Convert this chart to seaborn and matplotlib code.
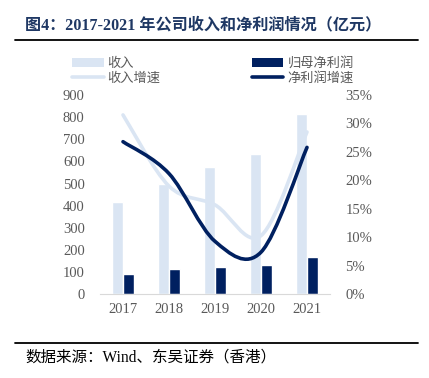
import numpy as np
import pandas as pd
import matplotlib
matplotlib.use('Agg')
import matplotlib.pyplot as plt
import seaborn as sns
from matplotlib.path import Path
from matplotlib.patches import PathPatch, Patch
from matplotlib.lines import Line2D
from matplotlib.ticker import FuncFormatter

# 数据（亿元 / %）
years = ['2017', '2018', '2019', '2020', '2021']
revenue = [418, 497, 575, 633, 814]
net_profit = [93, 113, 123, 132, 167]
revenue_growth = [31.5, 19.0, 15.7, 10.3, 28.5]
profit_growth = [26.8, 21.2, 9.3, 7.4, 25.8]

light = '#DAE5F3'
navy = '#002060'
gray = '#595959'
serif = 'Liberation Serif'
cjk = ['Liberation Serif', 'Noto Sans CJK SC']

sns.set_style('white')
plt.rcParams['font.family'] = ['Noto Sans CJK SC', 'DejaVu Sans']

df = pd.DataFrame({
    'year': years * 2,
    'series': ['收入'] * 5 + ['归母净利润'] * 5,
    'value': revenue + net_profit,
})

fig = plt.figure(figsize=(4.29, 3.78), dpi=100)
ax = fig.add_axes([100 / 429, 1 - 294.3 / 378, 230 / 429, 199.3 / 378])

sns.barplot(data=df, x='year', y='value', hue='series', ax=ax,
            palette=[light, navy], width=0.48, gap=0, saturation=1,
            legend=False)
ax.set_xlim(-0.5, 4.5)
ax.set_ylim(0, 900)
ax.set_yticks(range(0, 901, 100))
ax.set_xlabel('')
ax.set_ylabel('')
for s in ['top', 'left', 'right']:
    ax.spines[s].set_visible(False)
ax.spines['bottom'].set_color('#D9D9D9')
ax.tick_params(length=0, colors=gray, labelsize=10.5)
ax.tick_params(axis='y', pad=11)
ax.tick_params(axis='x', pad=6)
for lab in ax.get_xticklabels() + ax.get_yticklabels():
    lab.set_family(serif)


# 平滑曲线（类似 Excel 平滑线）
def smooth_path(xs, ys):
    pts = np.column_stack([xs, ys]).astype(float)
    n = len(pts)
    verts = [pts[0]]
    codes = [Path.MOVETO]
    for i in range(n - 1):
        p_prev = pts[i - 1] if i > 0 else pts[i]
        p_next2 = pts[i + 2] if i + 2 < n else pts[i + 1]
        c1 = pts[i] + (pts[i + 1] - p_prev) / 6
        c2 = pts[i + 1] - (p_next2 - pts[i]) / 6
        verts += [c1, c2, pts[i + 1]]
        codes += [Path.CURVE4] * 3
    return Path(verts, codes)


ax2 = ax.twinx()
ax2.set_ylim(0, 35)
ax2.set_yticks(range(0, 36, 5))
ax2.yaxis.set_major_formatter(FuncFormatter(lambda v, _: f'{v:.0f}%'))
xs = np.arange(len(years))
ax2.add_patch(PathPatch(smooth_path(xs, revenue_growth), fill=False,
                        edgecolor=light, lw=2.6, capstyle='round'))
ax2.add_patch(PathPatch(smooth_path(xs, profit_growth), fill=False,
                        edgecolor=navy, lw=2.6, capstyle='round'))
for s in ['top', 'left', 'right', 'bottom']:
    ax2.spines[s].set_visible(False)
ax2.tick_params(length=0, colors=gray, labelsize=10.5, pad=11)
for lab in ax2.get_yticklabels():
    lab.set_family(serif)

# 图例
handles = [Patch(facecolor=light, edgecolor='none'),
           Line2D([], [], color=light, lw=2.6),
           Patch(facecolor=navy, edgecolor='none'),
           Line2D([], [], color=navy, lw=2.6)]
labels = ['收入', '收入增速', '归母净利润', '净利润增速']
fig.legend(handles, labels, ncol=2, loc='upper left',
           bbox_to_anchor=(72 / 429, 1 - 57 / 378), frameon=False,
           fontsize=9.5, labelcolor=gray, handlelength=2.4,
           handleheight=0.7, handletextpad=0.3, columnspacing=6.9,
           labelspacing=0.15, borderaxespad=0, borderpad=0)

# 标题与来源
fig.text(25 / 429, 1 - 25 / 378, '图4：2017-2021 年公司收入和净利润情况（亿元）',
         family=cjk, fontsize=11.6, fontweight='bold', color='#1F3864',
         va='center', ha='left')
fig.add_artist(Line2D([15 / 429, 418 / 429], [1 - 40 / 378, 1 - 40 / 378],
                      color='black', lw=1.3))
fig.add_artist(Line2D([15 / 429, 418 / 429], [1 - 343 / 378, 1 - 343 / 378],
                      color='black', lw=1.3))
fig.text(25 / 429, 1 - 358 / 378, '数据来源：Wind、东吴证券（香港）',
         family=cjk, fontsize=11.2, color='black', va='center', ha='left')

fig.savefig('out.png', dpi=100)
